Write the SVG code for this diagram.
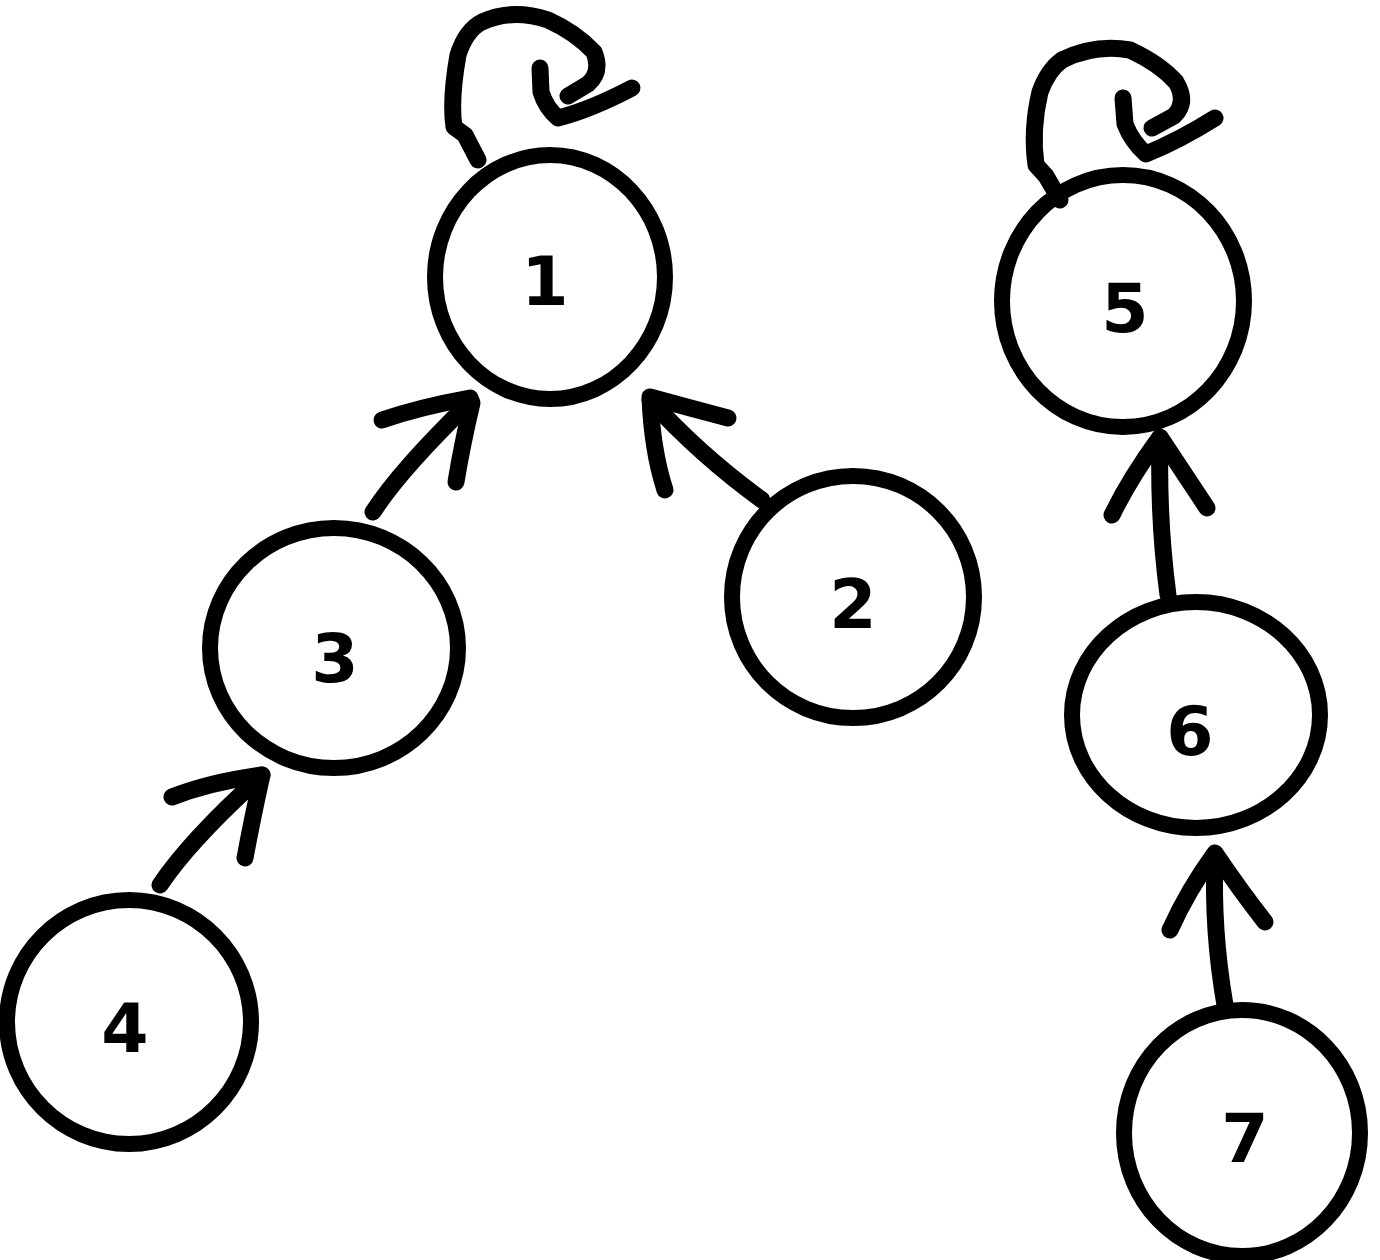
<svg xmlns="http://www.w3.org/2000/svg" width="1380" height="1260" viewBox="0 0 1380 1260">
<style>
.n{fill:none;stroke:#000;stroke-width:16;stroke-linecap:round;stroke-linejoin:round}
.c{fill:none;stroke:#000;stroke-width:17;stroke-linecap:round;stroke-linejoin:round}
.t{font-family:"DejaVu Sans","Liberation Sans",sans-serif;font-weight:bold;font-size:68px;fill:#000;text-anchor:middle}
</style>
<rect width="1380" height="1260" fill="#fff"/>
<g id="edges">
<path class="c" d="M478 160 L465 135 L454 127 Q450 100 458 55 Q466 30 482 22 Q512 8 548 20 Q575 32 594 52 Q602 72 588 84 L568 96"/>
<path class="c" d="M540 68 L541 92 Q546 108 558 118 Q590 110 632 88"/>
<path class="c" d="M1060 200 L1046 176 L1036 165 Q1031 130 1040 92 Q1048 70 1062 60 Q1095 44 1130 50 Q1160 64 1176 82 Q1188 102 1174 116 L1152 128"/>
<path class="c" d="M1123 98 L1125 124 Q1132 142 1146 154 Q1180 140 1215 118"/>
<path class="c" d="M373 512 Q400 470 470 402"/>
<path class="c" d="M382 420 Q420 407 470 398 L472 403 Q462 445 456 482"/>
<path class="c" d="M762 500 Q700 455 650 400"/>
<path class="c" d="M728 418 Q690 408 650 397 Q652 450 665 490"/>
<path class="c" d="M160 885 Q190 840 262 775"/>
<path class="c" d="M172 797 Q210 782 262 775 Q252 820 245 858"/>
<path class="c" d="M1168 595 Q1158 520 1160 440"/>
<path class="c" d="M1112 515 Q1130 478 1160 437 Q1185 475 1207 508"/>
<path class="c" d="M1225 1005 Q1212 930 1215 856"/>
<path class="c" d="M1170 930 Q1188 890 1215 853 Q1240 890 1265 922"/>
</g>
<g id="node1"><path class="n" d="M550 155 C613 155 665 210 665 277 C665 344 613 399 550 399 C487 399 435 344 435 277 C435 210 487 155 550 155 Z"/><text class="t" x="545" y="305">1</text></g>
<g id="node2"><path class="n" d="M853 476 C920 476 974 530 974 597 C974 664 920 718 853 718 C786 718 732 664 732 597 C732 530 786 476 853 476 Z"/><text class="t" x="853" y="628">2</text></g>
<g id="node3"><path class="n" d="M334 528 C402 528 458 582 458 648 C458 714 402 768 334 768 C266 768 210 714 210 648 C210 582 266 528 334 528 Z"/><text class="t" x="335" y="682">3</text></g>
<g id="node4"><path class="n" d="M129 900 C196 900 251 955 251 1022 C251 1089 196 1144 129 1144 C62 1144 7 1089 7 1022 C7 955 62 900 129 900 Z"/><text class="t" x="125" y="1052">4</text></g>
<g id="node5"><path class="n" d="M1123 175 C1190 175 1244 232 1244 301 C1244 370 1190 427 1123 427 C1056 427 1002 370 1002 301 C1002 232 1056 175 1123 175 Z"/><text class="t" x="1125" y="332">5</text></g>
<g id="node6"><path class="n" d="M1196 602 C1264 602 1320 653 1320 715 C1320 777 1264 828 1196 828 C1128 828 1072 777 1072 715 C1072 653 1128 602 1196 602 Z"/><text class="t" x="1190" y="755">6</text></g>
<g id="node7"><path class="n" d="M1242 1010 C1307 1010 1360 1065 1360 1133 C1360 1201 1307 1256 1242 1256 C1177 1256 1124 1201 1124 1133 C1124 1065 1177 1010 1242 1010 Z"/><text class="t" x="1245" y="1162">7</text></g>
</svg>
